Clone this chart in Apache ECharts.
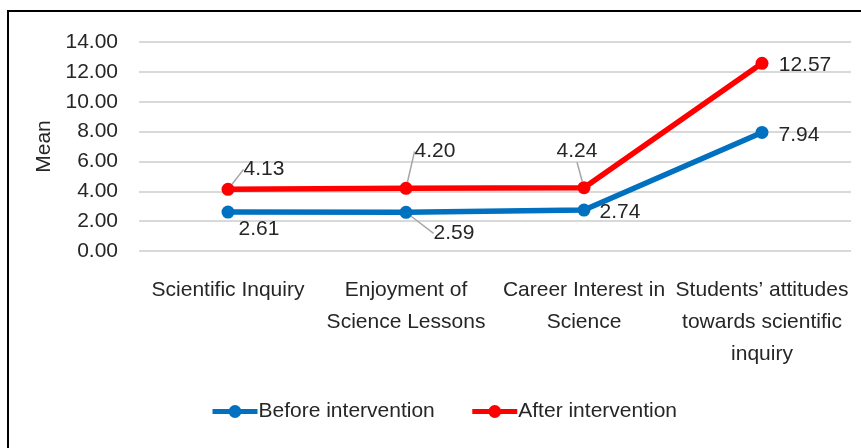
<!DOCTYPE html>
<html>
<head>
<meta charset="utf-8">
<script src="https://cdn.jsdelivr.net/npm/echarts@6/dist/echarts.min.js"></script>
<style>
  html, body { margin: 0; padding: 0; background: #fff; }
  #chart { width: 861px; height: 448px; }
</style>
</head>
<body>
<div id="chart"></div>
<script>
var categories = [
  "Scientific Inquiry",
  "Enjoyment of\nScience Lessons",
  "Career Interest in\nScience",
  "Students\u2019 attitudes\ntowards scientific\ninquiry"
];
var beforeValues = [2.61, 2.59, 2.74, 7.94];
var afterValues = [4.13, 4.20, 4.24, 12.57];
var yTicks = [0, 2, 4, 6, 8, 10, 12, 14];

// label shifts from the point (dx, dy) and whether a leader line is drawn
var beforeShift = [[31, 17, false], [48, 21, true], [36, 2, false], [37, 3, false]];
var afterShift = [[36, -20, true], [29, -37, true], [-7, -36, true], [43, 2, false]];

var font = '"Liberation Sans", sans-serif';

function makeData(vals, shifts) {
  return vals.map(function (v, i) {
    return { value: v, labelLine: { show: shifts[i][2] } };
  });
}

var chart = echarts.init(document.getElementById("chart"));

var option = {
  animation: false,
  textStyle: { fontFamily: font },
  grid: { left: 139, right: 10, top: 42, bottom: 197 },
  graphic: [
    {
      type: "polyline",
      shape: { points: [[8, 448], [8, 11], [861, 11]] },
      style: { stroke: "#000", lineWidth: 2, fill: null }
    }
  ],
  legend: {
    left: 205,
    top: 396,
    itemWidth: 45,
    itemHeight: 16,
    itemGap: 35,
    lineStyle: { width: 5 },
    textStyle: { fontFamily: font, fontSize: 21, color: "#262626", padding: [0, 0, 0, -4] },
    data: ["Before intervention", "After intervention"]
  },
  xAxis: {
    type: "category",
    data: categories,
    axisLine: { show: false },
    axisTick: { show: false },
    axisLabel: {
      interval: 0,
      margin: 23,
      fontSize: 21,
      lineHeight: 32,
      color: "#262626",
      fontFamily: font
    }
  },
  yAxis: {
    type: "value",
    min: yTicks[0],
    max: yTicks[yTicks.length - 1],
    interval: 2,
    name: "Mean",
    nameLocation: "middle",
    nameGap: 84,
    nameMoveOverlap: false,
    nameTextStyle: { fontSize: 21, color: "#262626", fontFamily: font },
    axisLine: { show: false },
    axisTick: { show: false },
    axisLabel: {
      margin: 21,
      fontSize: 21,
      color: "#262626",
      fontFamily: font,
      formatter: function (v) { return v.toFixed(2); }
    },
    splitLine: { lineStyle: { color: "#d9d9d9", width: 2 } }
  },
  series: [
    {
      name: "Before intervention",
      type: "line",
      data: makeData(beforeValues, beforeShift),
      color: "#0070C0",
      symbol: "circle",
      symbolSize: 13,
      lineStyle: { width: 5.5 },
      label: {
        show: true,
        position: "inside",
        fontSize: 21,
        color: "#262626",
        fontFamily: font,
        formatter: function (p) { return p.value.toFixed(2); }
      },
      labelLine: { show: true, lineStyle: { color: "#a6a6a6", width: 1.5 } },
      labelLayout: function (p) {
        var s = beforeShift[p.dataIndex];
        return { dx: s[0], dy: s[1] };
      },
      z: 3
    },
    {
      name: "After intervention",
      type: "line",
      data: makeData(afterValues, afterShift),
      color: "#FF0000",
      symbol: "circle",
      symbolSize: 13,
      lineStyle: { width: 5.5 },
      label: {
        show: true,
        position: "inside",
        fontSize: 21,
        color: "#262626",
        fontFamily: font,
        formatter: function (p) { return p.value.toFixed(2); }
      },
      labelLine: { show: true, lineStyle: { color: "#a6a6a6", width: 1.5 } },
      labelLayout: function (p) {
        var s = afterShift[p.dataIndex];
        return { dx: s[0], dy: s[1] };
      },
      z: 4
    }
  ]
};

chart.setOption(option);
</script>
</body>
</html>
